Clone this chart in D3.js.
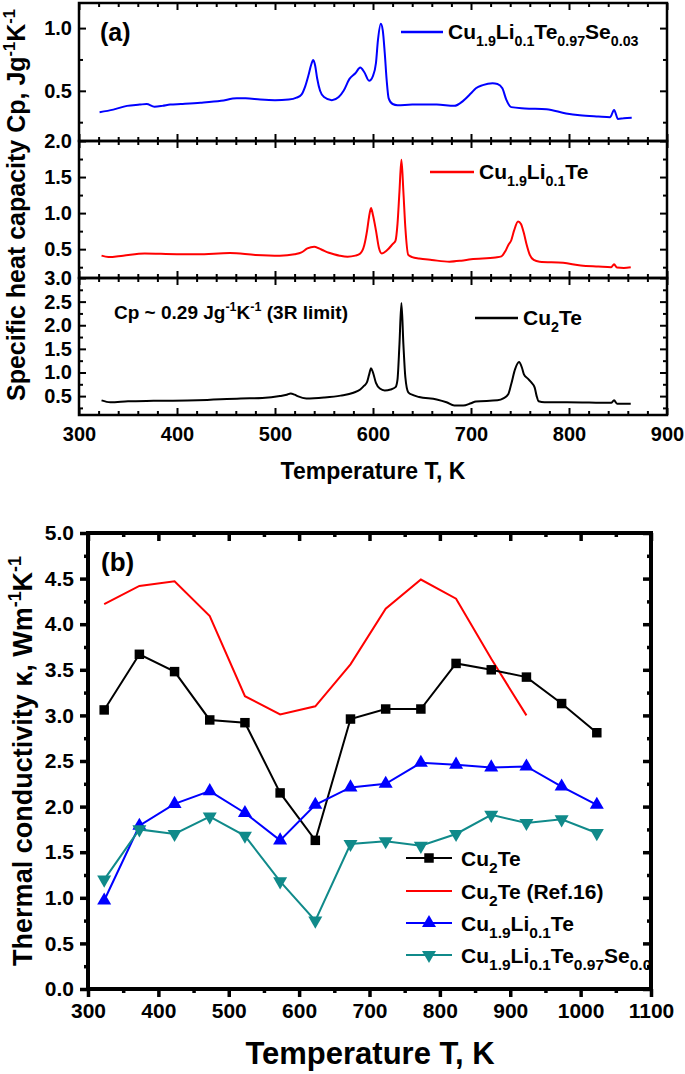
<!DOCTYPE html>
<html><head><meta charset="utf-8">
<script src="https://cdn.jsdelivr.net/npm/d3@7"></script>
<style>
body{margin:0;background:#fff;}
svg text{font-family:Arial,"Liberation Sans",Helvetica,sans-serif;font-weight:bold;fill:#000;}
</style></head><body>
<svg id="chart" width="685" height="1074"></svg>
<script>
// ---------- Panel (a): specific heat Cp (J g^-1 K^-1) vs T (K) ----------
const cpLiSeT = [321,335,349,362,369,377,385,393,404,424,445,461,470,485,500,514,522,527,531,534,537,539,541,543,546,550,558,565,570,576,582,587,591,596,600,603,605,608,610,612,614,616,620,625,640,665,683,692,700,705,712,722,727,732,736,741,755,777,797,811,830,842,846,850,856,864];
const cpLiSeV = [0.33,0.35,0.38,0.39,0.395,0.374,0.38,0.39,0.395,0.405,0.42,0.44,0.44,0.43,0.425,0.43,0.445,0.47,0.54,0.62,0.71,0.745,0.70,0.60,0.50,0.45,0.425,0.45,0.50,0.595,0.64,0.685,0.65,0.58,0.62,0.72,0.90,1.035,0.98,0.80,0.58,0.44,0.395,0.385,0.39,0.39,0.38,0.42,0.48,0.52,0.545,0.56,0.555,0.52,0.43,0.37,0.36,0.353,0.32,0.305,0.295,0.29,0.348,0.276,0.282,0.285];

const cpLiT = [323,330,345,367,400,421,454,480,505,520,527,533,540,545,549,555,560,566,574,582,587,591,594,596,598,600,603,606,609,614,620,623,625,627,629,631,633,636,640,647,660,678,690,700,725,731,735,738,741,744,748,751,754,757,760,764,770,794,812,830,843,846,849,856,863];
const cpLiV = [0.41,0.39,0.41,0.44,0.43,0.43,0.445,0.42,0.41,0.43,0.455,0.51,0.535,0.51,0.485,0.45,0.43,0.41,0.395,0.41,0.44,0.55,0.76,0.95,1.07,0.97,0.76,0.52,0.44,0.48,0.57,0.62,0.85,1.3,1.74,1.3,0.8,0.42,0.39,0.37,0.35,0.326,0.34,0.36,0.385,0.40,0.47,0.555,0.62,0.76,0.885,0.85,0.72,0.55,0.42,0.35,0.325,0.31,0.275,0.26,0.25,0.29,0.245,0.24,0.25];

const cpCu2TeT = [323,332,350,376,421,465,487,505,512,516,520,523,532,550,567,580,587,591,594,596,598,600,603,607,612,618,623,625,627,629,631,633,636,641,647,665,675,683,692,700,705,727,733,738,741,745,749,752,754,758,762,765,767,769,775,798,843,846,849,856,863];
const cpCu2TeV = [0.41,0.37,0.39,0.40,0.41,0.45,0.46,0.50,0.53,0.557,0.53,0.50,0.45,0.47,0.51,0.57,0.64,0.72,0.80,0.95,1.09,1.0,0.78,0.66,0.62,0.64,0.69,0.85,1.6,2.47,1.6,0.9,0.58,0.52,0.48,0.43,0.37,0.30,0.30,0.35,0.386,0.41,0.45,0.54,0.75,1.07,1.22,1.1,0.96,0.87,0.78,0.68,0.50,0.39,0.37,0.37,0.357,0.41,0.34,0.34,0.34];

const cpXTicks = [300,400,500,600,700,800,900];
const cpTopTicks = [0.5,1.0];
const cpMidTicks = [0.5,1.0,1.5,2.0];
const cpBotTicks = [0.5,1.0,1.5,2.0,2.5,3.0];

// ---------- Panel (b): thermal conductivity (W m^-1 K^-1) vs T (K) ----------
const kTemps   = [323,373,423,473,523,573,623,673,723,773,823,873,923,973,1023];
const kCu2Te   = [3.06,3.67,3.48,2.95,2.92,2.15,1.63,2.96,3.07,3.07,3.57,3.50,3.42,3.13,2.81];
const kRefT    = [323,373,423,473,523,573,623,673,723,773,823,873,923];
const kRef16   = [4.22,4.42,4.47,4.09,3.21,3.01,3.10,3.56,4.17,4.49,4.28,3.62,3.00];
const kLi      = [0.97,1.79,2.03,2.17,1.93,1.63,2.02,2.21,2.25,2.48,2.46,2.43,2.44,2.22,2.02];
const kLiSe    = [1.20,1.75,1.70,1.89,1.68,1.18,0.75,1.59,1.62,1.57,1.70,1.91,1.82,1.86,1.71];
const kXTicks  = [300,400,500,600,700,800,900,1000,1100];
const kYTicks  = [0,0.5,1,1.5,2,2.5,3,3.5,4,4.5,5];

const svg = d3.select('#chart');

function rich(sel, parts, size, subRatio) {
  const r = subRatio || 0.66;
  let shift = 0;
  parts.forEach(p => {
    const str = Array.isArray(p) ? p[0] : p;
    const kind = Array.isArray(p) ? p[1] : null;
    const target = kind === 'sub' ? size*0.32 : kind === 'sup' ? -size*0.4 : 0;
    const fs = kind ? size*r : size;
    sel.append('tspan').attr('dy', target - shift).attr('font-size', fs).text(str);
    shift = target;
  });
  return sel;
}

// ================= Panel (a) =================
const xA = d3.scaleLinear().domain([300,900]).range([79,667]);
const xMinorA = d3.range(300,901,20).filter(v => v % 100 !== 0);
const subs = [
  {y0:3,   y1:141, dom:[0.1,1.2], ticks:cpTopTicks, T:cpLiSeT,  V:cpLiSeV,  color:'#0000ff'},
  {y0:141, y1:278, dom:[0.1,2.0], ticks:cpMidTicks, T:cpLiT,    V:cpLiV,    color:'#ff0000'},
  {y0:278, y1:415, dom:[0.1,3.0], ticks:cpBotTicks, T:cpCu2TeT, V:cpCu2TeV, color:'#000000'}
];
const L = 79, R = 667;
subs.forEach((s, i) => {
  const y = d3.scaleLinear().domain(s.dom).range([s.y1, s.y0]);
  const minorY = [];
  s.ticks.forEach(t => { const m = t - 0.25; if (m > s.dom[0]) minorY.push(m); });
  const g = svg.append('g');
  const styleAxis = a => { a.select('.domain').remove(); a.selectAll('line').attr('stroke','#000').attr('stroke-width',2); };
  const bx = g.append('g').attr('transform',`translate(0,${s.y1})`)
    .call(d3.axisBottom(xA).tickValues(cpXTicks).tickSize(-7).tickPadding(12).tickFormat(i===2? d3.format('d') : ''));
  styleAxis(bx);
  bx.selectAll('text').attr('font-size',20).attr('font-family',null);
  styleAxis(g.append('g').attr('transform',`translate(0,${s.y1})`).call(d3.axisBottom(xA).tickValues(xMinorA).tickSize(-4).tickFormat('')));
  styleAxis(g.append('g').attr('transform',`translate(0,${s.y0})`).call(d3.axisTop(xA).tickValues(cpXTicks).tickSize(-7).tickFormat('')));
  styleAxis(g.append('g').attr('transform',`translate(0,${s.y0})`).call(d3.axisTop(xA).tickValues(xMinorA).tickSize(-4).tickFormat('')));
  const ly = g.append('g').attr('transform',`translate(${L},0)`)
    .call(d3.axisLeft(y).tickValues(s.ticks).tickSize(-7).tickPadding(7).tickFormat(d3.format('.1f')));
  styleAxis(ly);
  ly.selectAll('text').attr('font-size',20).attr('font-family',null);
  styleAxis(g.append('g').attr('transform',`translate(${L},0)`).call(d3.axisLeft(y).tickValues(minorY).tickSize(-4).tickFormat('')));
  styleAxis(g.append('g').attr('transform',`translate(${R},0)`).call(d3.axisRight(y).tickValues(s.ticks).tickSize(-7).tickFormat('')));
  styleAxis(g.append('g').attr('transform',`translate(${R},0)`).call(d3.axisRight(y).tickValues(minorY).tickSize(-4).tickFormat('')));
  const data = s.T.map((t,k) => [t, s.V[k]]);
  g.append('path').datum(data)
    .attr('fill','none').attr('stroke',s.color).attr('stroke-width',2).attr('stroke-linejoin','round')
    .attr('d', d3.line().x(d => xA(d[0])).y(d => y(d[1])).curve(d3.curveMonotoneX));
  g.append('rect').attr('x',L).attr('y',s.y0).attr('width',R-L).attr('height',s.y1-s.y0)
    .attr('fill','none').attr('stroke','#000').attr('stroke-width',2.5);
});

const legA = [
  {x1:401,x2:443,y:32, color:'#0000ff', parts:['Cu',['1.9','sub'],'Li',['0.1','sub'],'Te',['0.97','sub'],'Se',['0.03','sub']]},
  {x1:430,x2:474,y:172,color:'#ff0000', parts:['Cu',['1.9','sub'],'Li',['0.1','sub'],'Te']},
  {x1:475,x2:518,y:318,color:'#000000', parts:['Cu',['2','sub'],'Te']}
];
legA.forEach(l => {
  svg.append('line').attr('x1',l.x1).attr('x2',l.x2).attr('y1',l.y).attr('y2',l.y).attr('stroke',l.color).attr('stroke-width',2.5);
  rich(svg.append('text').attr('x',l.x2+5).attr('y',l.y+7).attr('font-size',21), l.parts, 21, 0.68);
});
svg.append('text').attr('x',100).attr('y',41).attr('font-size',25).text('(a)');
rich(svg.append('text').attr('x',114).attr('y',319).attr('font-size',19),
  ['Cp ~ 0.29 Jg',['-1','sup'],'K',['-1','sup'],' (3R limit)'], 19);
rich(svg.append('text').attr('text-anchor','middle').attr('font-size',25)
  .attr('transform','translate(25,205) rotate(-90)'),
  ['Specific heat capacity Cp, Jg',['-1','sup'],'K',['-1','sup']], 25);
svg.append('text').attr('x',373).attr('y',479).attr('text-anchor','middle').attr('font-size',23).text('Temperature T, K');

// ================= Panel (b) =================
const xB = d3.scaleLinear().domain([300,1100]).range([88,651]);
const yB = d3.scaleLinear().domain([0,5]).range([989,533]);
const xMinorB = d3.range(350,1100,100);
const yMinorB = d3.range(0.25,5,0.5);
const gb = svg.append('g');
const styleB = a => { a.select('.domain').remove(); a.selectAll('line').attr('stroke','#000').attr('stroke-width',3.5); };
const bxb = gb.append('g').attr('transform','translate(0,989)')
  .call(d3.axisBottom(xB).tickValues(kXTicks).tickSize(8).tickPadding(6).tickFormat(d3.format('d')));
styleB(bxb); bxb.selectAll('text').attr('font-size',21).attr('font-family',null);
styleB(gb.append('g').attr('transform','translate(0,989)').call(d3.axisBottom(xB).tickValues(xMinorB).tickSize(4).tickFormat('')));
styleB(gb.append('g').attr('transform','translate(0,533)').call(d3.axisTop(xB).tickValues(kXTicks).tickSize(-8).tickFormat('')));
styleB(gb.append('g').attr('transform','translate(0,533)').call(d3.axisTop(xB).tickValues(xMinorB).tickSize(-4).tickFormat('')));
const lyb = gb.append('g').attr('transform','translate(88,0)')
  .call(d3.axisLeft(yB).tickValues(kYTicks).tickSize(8).tickPadding(6).tickFormat(d3.format('.1f')));
styleB(lyb); lyb.selectAll('text').attr('font-size',21).attr('font-family',null);
styleB(gb.append('g').attr('transform','translate(88,0)').call(d3.axisLeft(yB).tickValues(yMinorB).tickSize(4).tickFormat('')));
styleB(gb.append('g').attr('transform','translate(651,0)').call(d3.axisRight(yB).tickValues(kYTicks).tickSize(-8).tickFormat('')));
styleB(gb.append('g').attr('transform','translate(651,0)').call(d3.axisRight(yB).tickValues(yMinorB).tickSize(-4).tickFormat('')));

const lineB = d3.line().x(d => xB(d[0])).y(d => yB(d[1]));
const sq = d3.symbol().type(d3.symbolSquare).size(90);
const tri = d3.symbol().type(d3.symbolTriangle).size(85);
const seriesB = [
  {T:kTemps, V:kCu2Te, color:'#000000', sym:'sq'},
  {T:kRefT,  V:kRef16, color:'#ff0000', sym:null},
  {T:kTemps, V:kLi,    color:'#0000ff', sym:'up'},
  {T:kTemps, V:kLiSe,  color:'#108a8a', sym:'down'}
];
function marker(sel, s) {
  if (s.sym === 'sq') sel.attr('d', sq());
  else if (s.sym === 'up') sel.attr('d', tri());
  else if (s.sym === 'down') sel.attr('d', tri()).attr('transform', function(){ return d3.select(this).attr('transform') + ' rotate(180)'; });
}
[1,0,2,3].forEach(i => {
  const s = seriesB[i];
  const data = s.T.map((t,k) => [t, s.V[k]]);
  gb.append('path').datum(data).attr('fill','none').attr('stroke',s.color).attr('stroke-width',2).attr('d', lineB);
  if (s.sym) {
    gb.selectAll(null).data(data).enter().append('path')
      .attr('transform', d => `translate(${xB(d[0])},${yB(d[1])})`)
      .attr('fill', s.color)
      .each(function(){ marker(d3.select(this), s); });
  }
});
gb.append('rect').attr('x',88).attr('y',533).attr('width',563).attr('height',456)
  .attr('fill','none').attr('stroke','#000').attr('stroke-width',4);

svg.append('clipPath').attr('id','clipB').append('rect').attr('x',90).attr('y',535).attr('width',559).attr('height',452);
const legB = svg.append('g').attr('clip-path','url(#clipB)');
const legItems = [
  {y:858, s:seriesB[0], parts:['Cu',['2','sub'],'Te']},
  {y:891, s:seriesB[1], parts:['Cu',['2','sub'],'Te (Ref.16)']},
  {y:923, s:seriesB[2], parts:['Cu',['1.9','sub'],'Li',['0.1','sub'],'Te']},
  {y:955, s:seriesB[3], parts:['Cu',['1.9','sub'],'Li',['0.1','sub'],'Te',['0.97','sub'],'Se',['0.03','sub']]}
];
legItems.forEach(l => {
  legB.append('line').attr('x1',406).attr('x2',452).attr('y1',l.y).attr('y2',l.y).attr('stroke',l.s.color).attr('stroke-width',2);
  if (l.s.sym) {
    legB.append('path').attr('transform',`translate(429,${l.y})`).attr('fill',l.s.color)
      .each(function(){ marker(d3.select(this), l.s); });
  }
  rich(legB.append('text').attr('x',461).attr('y',l.y+8).attr('font-size',21), l.parts, 21, 0.74);
});
svg.append('text').attr('x',101).attr('y',571).attr('font-size',26).text('(b)');
rich(svg.append('text').attr('text-anchor','middle').attr('font-size',27)
  .attr('transform','translate(32,761) rotate(-90)'),
  ['Thermal conductivity κ, Wm',['-1','sup'],'K',['-1','sup']], 27);
svg.append('text').attr('x',370).attr('y',1064).attr('text-anchor','middle').attr('font-size',31).text('Temperature T, K');
</script>
</body></html>
